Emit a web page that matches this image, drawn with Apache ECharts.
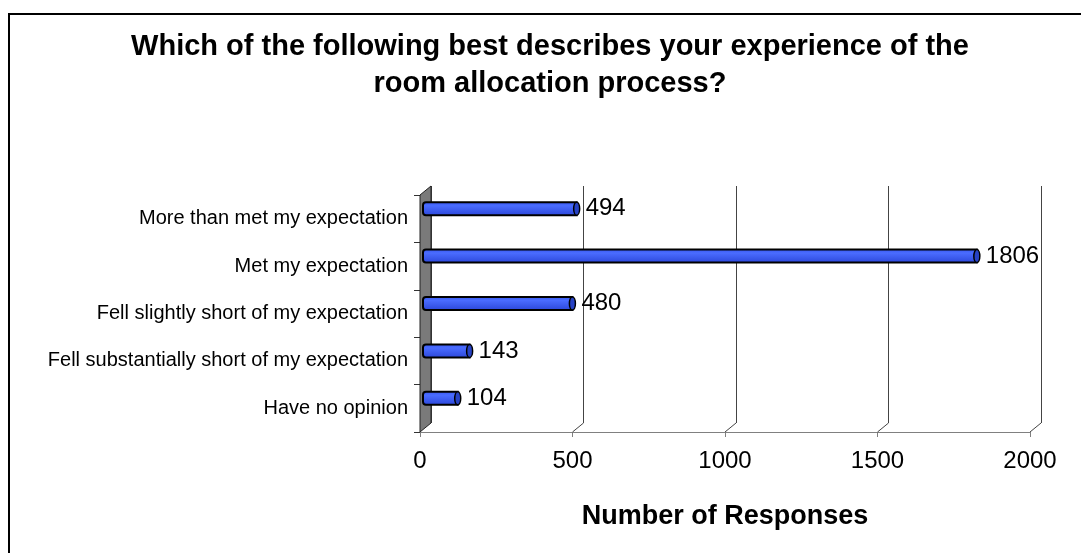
<!DOCTYPE html>
<html>
<head>
<meta charset="utf-8">
<script src="https://cdn.jsdelivr.net/npm/echarts@6/dist/echarts.min.js"></script>
<style>
  html, body { margin: 0; padding: 0; background: #fff; }
  #chart { width: 1081px; height: 553px; }
</style>
</head>
<body>
<div id="chart"></div>
<script>
// data
const categories = [
  'More than met my expectation',
  'Met my expectation',
  'Fell slightly short of my expectation',
  'Fell substantially short of my expectation',
  'Have no opinion',
]
const responses = [494, 1806, 480, 143, 104]
const xTicks = [0, 500, 1000, 1500, 2000]

const FONT = '"Liberation Sans", Arial, sans-serif'
// 3d depth offset (back plane vs front plane)
const DX = 11
const DY = -9

const chart = echarts.init(document.getElementById('chart'))

// wall + slanted floor connectors
function renderDeco(params, api) {
  const cs = params.coordSys
  const children = []
  // left wall
  children.push({
    type: 'polygon',
    shape: {
      points: [
        [cs.x, cs.y],
        [cs.x + DX, cs.y + DY],
        [cs.x + DX, cs.y + cs.height + DY],
        [cs.x, cs.y + cs.height],
      ],
    },
    style: { fill: '#7a7a7a', stroke: '#222', lineWidth: 1 },
  })
  // gridline foot slants
  xTicks.forEach((t) => {
    if (t === 0) return
    const p = api.coord([t, 0])
    const bottom = cs.y + cs.height
    children.push({
      type: 'line',
      shape: { x1: p[0], y1: bottom, x2: p[0] + DX, y2: bottom + DY },
      style: { stroke: '#444', lineWidth: 1 },
    })
  })
  return { type: 'group', children: children }
}

// cylinder bars
function renderBar(params, api) {
  const v = api.value(0)
  const start = api.coord([0, api.value(1)])
  const end = api.coord([v, api.value(1)])
  const h = 13
  const rx = 3
  const cy = end[1] - 10
  const x0 = start[0] + 6
  const x1 = end[0] + 6
  return {
    type: 'group',
    children: [
      {
        type: 'rect',
        shape: { x: x0 - rx, y: cy - h / 2, width: x1 - x0 + rx, height: h, r: [rx, 0, 0, rx] },
        style: {
          fill: new echarts.graphic.LinearGradient(0, 0, 0, 1, [
            { offset: 0, color: '#3556ee' },
            { offset: 0.3, color: '#4a6cff' },
            { offset: 1, color: '#2a45d8' },
          ]),
          stroke: '#000',
          lineWidth: 2,
        },
      },
      {
        type: 'ellipse',
        shape: { cx: x1, cy: cy, rx: rx, ry: h / 2 },
        style: { fill: '#2742c4', stroke: '#000', lineWidth: 1.5 },
      },
      {
        type: 'text',
        style: {
          x: x1 + 9,
          y: cy,
          text: String(v),
          fill: '#000',
          font: '24px ' + FONT,
          verticalAlign: 'middle',
          align: 'left',
        },
      },
    ],
  }
}

const options = {
  backgroundColor: '#fff',
  animation: false,
  title: {
    text: 'Which of the following best describes your experience of the\nroom allocation process?',
    left: 545,
    top: 23,
    textAlign: 'center',
    textStyle: {
      fontFamily: FONT,
      fontSize: 29,
      fontWeight: 'bold',
      color: '#000',
      lineHeight: 37,
    },
  },
  graphic: [
    {
      type: 'rect',
      shape: { x: 9, y: 14, width: 1200, height: 700 },
      style: { fill: 'none', stroke: '#000', lineWidth: 2 },
      z: 100,
    },
  ],
  grid: [
    // front plane
    { left: 420, right: 51, top: 195, bottom: 121 },
    // back plane
    { left: 420 + DX, right: 51 - DX, top: 195 + DY, bottom: 121 - DY },
  ],
  xAxis: [
    {
      gridIndex: 0,
      type: 'value',
      min: 0,
      max: 2000,
      interval: 500,
      axisLine: { show: true, lineStyle: { color: '#808080', width: 1 } },
      axisTick: { show: true, length: 5, lineStyle: { color: '#808080' } },
      axisLabel: {
        fontFamily: FONT,
        fontSize: 24,
        color: '#000',
        margin: 17,
        formatter: (v) => String(v),
      },
      splitLine: { show: false },
      name: 'Number of Responses',
      nameLocation: 'middle',
      nameGap: 71,
      nameTextStyle: { fontFamily: FONT, fontSize: 27, fontWeight: 'bold', color: '#000' },
    },
    {
      gridIndex: 1,
      type: 'value',
      min: 0,
      max: 2000,
      interval: 500,
      axisLine: { show: false },
      axisTick: { show: false },
      axisLabel: { show: false },
      splitLine: { show: true, lineStyle: { color: '#444', width: 1 } },
    },
  ],
  yAxis: [
    {
      gridIndex: 0,
      type: 'category',
      data: categories,
      inverse: true,
      axisLine: { show: false },
      axisTick: { show: true, length: 6, lineStyle: { color: '#333' } },
      axisLabel: { fontFamily: FONT, fontSize: 20, color: '#000', margin: 12 },
    },
    {
      gridIndex: 1,
      type: 'category',
      data: categories,
      inverse: true,
      show: false,
    },
  ],
  series: [
    {
      type: 'custom',
      xAxisIndex: 0,
      yAxisIndex: 0,
      renderItem: renderDeco,
      data: [[0, 0]],
      z: 1,
      silent: true,
    },
    {
      type: 'custom',
      xAxisIndex: 0,
      yAxisIndex: 0,
      renderItem: renderBar,
      data: responses.map((v, i) => [v, i]),
      encode: { x: 0, y: 1 },
      z: 5,
    },
  ],
}

chart.setOption(options)
window.addEventListener('resize', () => {
  chart.resize()
})
</script>
</body>
</html>
